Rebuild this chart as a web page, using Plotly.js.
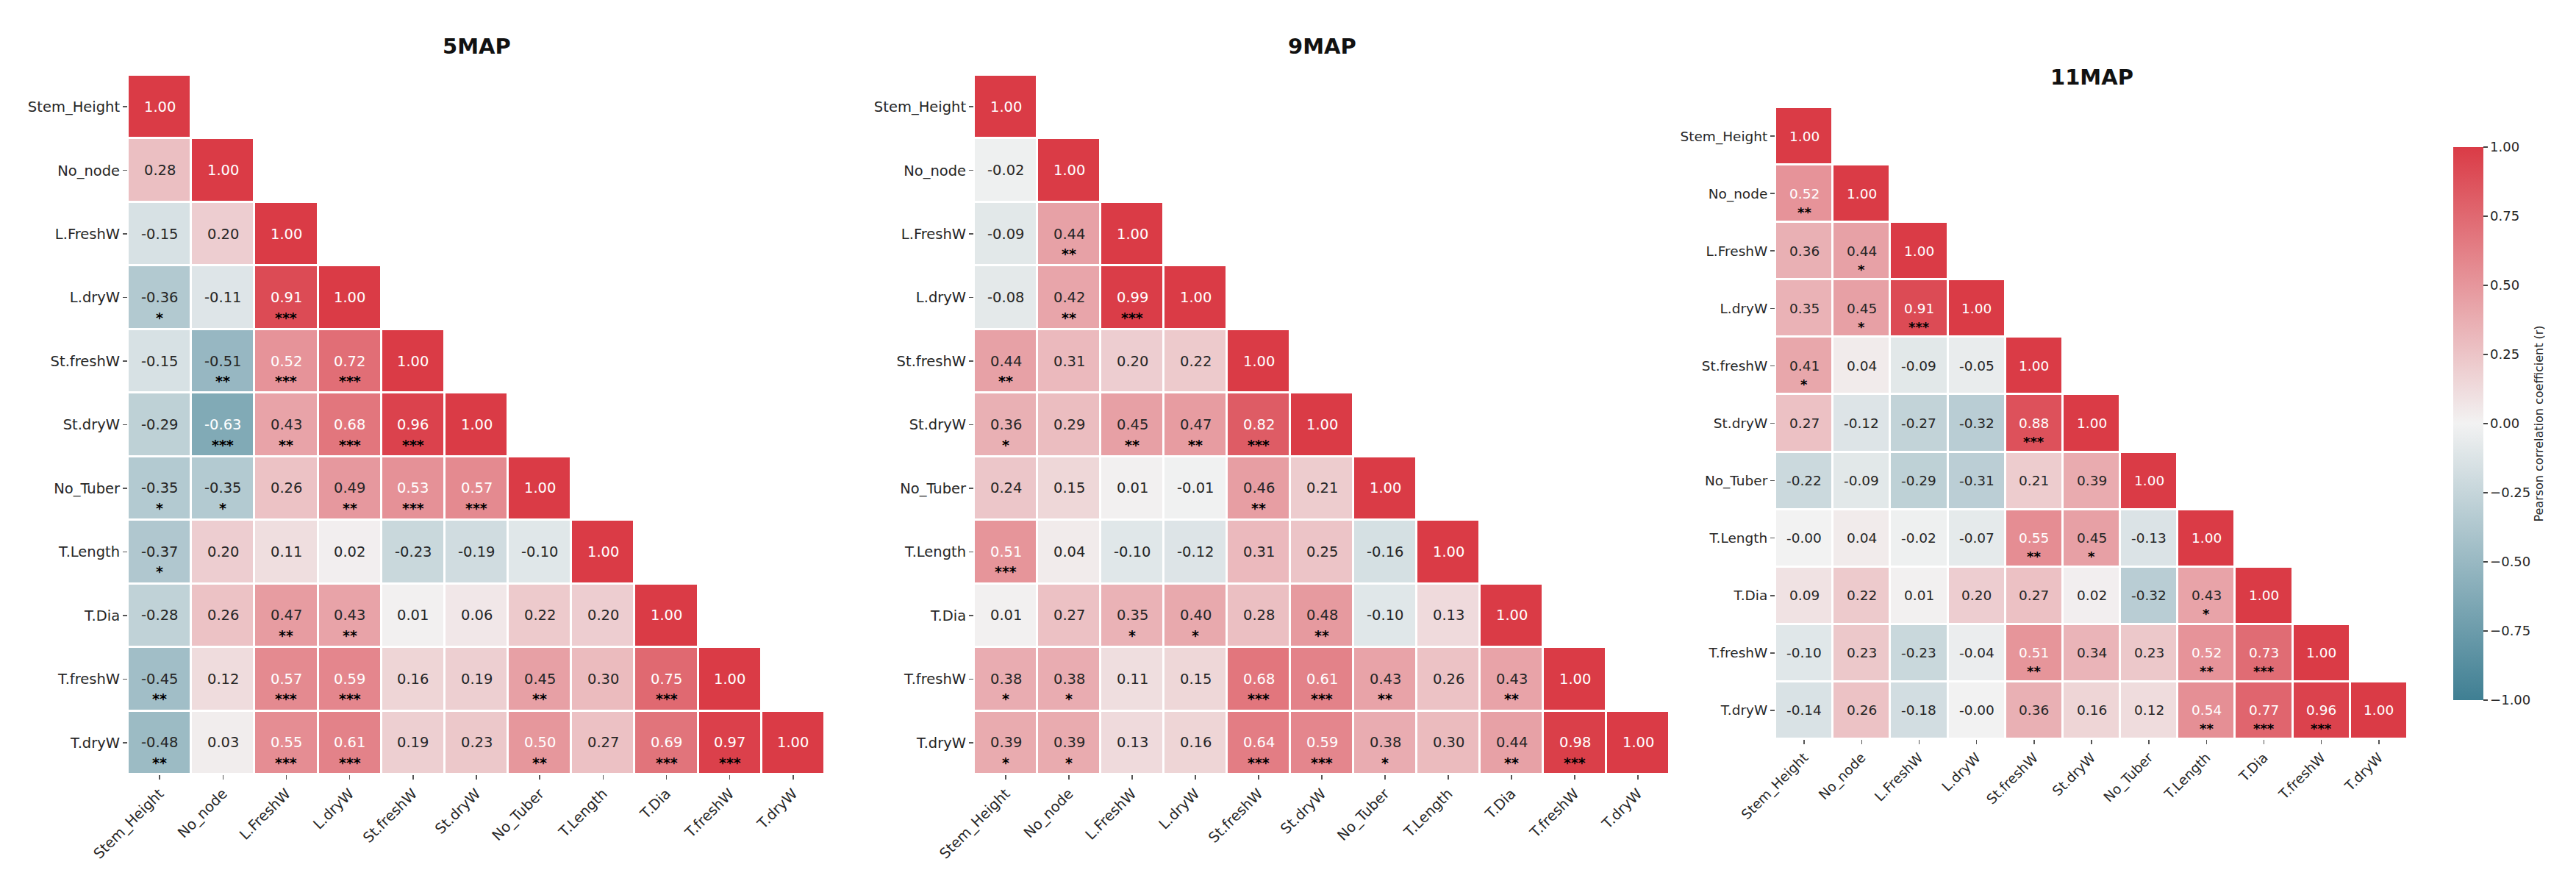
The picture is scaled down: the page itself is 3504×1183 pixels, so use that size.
<!DOCTYPE html>
<html>
<head>
<meta charset="utf-8">
<script src="https://cdn.plot.ly/plotly-3.0.1.min.js"></script>
<style>
  html, body { margin: 0; padding: 0; background: #ffffff; }
  #chart { width: 3504px; height: 1183px; }
</style>
</head>
<body>
<div id="chart"></div>
<script>
// Traits measured on the plants
const variables = ["Stem_Height", "No_node", "L.FreshW", "L.dryW", "St.freshW", "St.dryW",
                   "No_Tuber", "T.Length", "T.Dia", "T.freshW", "T.dryW"];

// Lower-triangle Pearson r, one row per trait (row i holds columns 0..i)
const r5MAP = [
  [1.00],
  [0.28, 1.00],
  [-0.15, 0.20, 1.00],
  [-0.36, -0.11, 0.91, 1.00],
  [-0.15, -0.51, 0.52, 0.72, 1.00],
  [-0.29, -0.63, 0.43, 0.68, 0.96, 1.00],
  [-0.35, -0.35, 0.26, 0.49, 0.53, 0.57, 1.00],
  [-0.37, 0.20, 0.11, 0.02, -0.23, -0.19, -0.10, 1.00],
  [-0.28, 0.26, 0.47, 0.43, 0.01, 0.06, 0.22, 0.20, 1.00],
  [-0.45, 0.12, 0.57, 0.59, 0.16, 0.19, 0.45, 0.30, 0.75, 1.00],
  [-0.48, 0.03, 0.55, 0.61, 0.19, 0.23, 0.50, 0.27, 0.69, 0.97, 1.00]
];
// Significance level per cell: 1 = *, 2 = **, 3 = ***
const sig5MAP = [
  [0],
  [0, 0],
  [0, 0, 0],
  [1, 0, 3, 0],
  [0, 2, 3, 3, 0],
  [0, 3, 2, 3, 3, 0],
  [1, 1, 0, 2, 3, 3, 0],
  [1, 0, 0, 0, 0, 0, 0, 0],
  [0, 0, 2, 2, 0, 0, 0, 0, 0],
  [2, 0, 3, 3, 0, 0, 2, 0, 3, 0],
  [2, 0, 3, 3, 0, 0, 2, 0, 3, 3, 0]
];

const r9MAP = [
  [1.00],
  [-0.02, 1.00],
  [-0.09, 0.44, 1.00],
  [-0.08, 0.42, 0.99, 1.00],
  [0.44, 0.31, 0.20, 0.22, 1.00],
  [0.36, 0.29, 0.45, 0.47, 0.82, 1.00],
  [0.24, 0.15, 0.01, -0.01, 0.46, 0.21, 1.00],
  [0.51, 0.04, -0.10, -0.12, 0.31, 0.25, -0.16, 1.00],
  [0.01, 0.27, 0.35, 0.40, 0.28, 0.48, -0.10, 0.13, 1.00],
  [0.38, 0.38, 0.11, 0.15, 0.68, 0.61, 0.43, 0.26, 0.43, 1.00],
  [0.39, 0.39, 0.13, 0.16, 0.64, 0.59, 0.38, 0.30, 0.44, 0.98, 1.00]
];
const sig9MAP = [
  [0],
  [0, 0],
  [0, 2, 0],
  [0, 2, 3, 0],
  [2, 0, 0, 0, 0],
  [1, 0, 2, 2, 3, 0],
  [0, 0, 0, 0, 2, 0, 0],
  [3, 0, 0, 0, 0, 0, 0, 0],
  [0, 0, 1, 1, 0, 2, 0, 0, 0],
  [1, 1, 0, 0, 3, 3, 2, 0, 2, 0],
  [1, 1, 0, 0, 3, 3, 1, 0, 2, 3, 0]
];

const r11MAP = [
  [1.00],
  [0.52, 1.00],
  [0.36, 0.44, 1.00],
  [0.35, 0.45, 0.91, 1.00],
  [0.41, 0.04, -0.09, -0.05, 1.00],
  [0.27, -0.12, -0.27, -0.32, 0.88, 1.00],
  [-0.22, -0.09, -0.29, -0.31, 0.21, 0.39, 1.00],
  [-0.00, 0.04, -0.02, -0.07, 0.55, 0.45, -0.13, 1.00],
  [0.09, 0.22, 0.01, 0.20, 0.27, 0.02, -0.32, 0.43, 1.00],
  [-0.10, 0.23, -0.23, -0.04, 0.51, 0.34, 0.23, 0.52, 0.73, 1.00],
  [-0.14, 0.26, -0.18, -0.00, 0.36, 0.16, 0.12, 0.54, 0.77, 0.96, 1.00]
];
const sig11MAP = [
  [0],
  [2, 0],
  [0, 1, 0],
  [0, 1, 3, 0],
  [1, 0, 0, 0, 0],
  [0, 0, 0, 0, 3, 0],
  [0, 0, 0, 0, 0, 0, 0],
  [0, 0, 0, 0, 2, 1, 0, 0],
  [0, 0, 0, 0, 0, 0, 0, 1, 0],
  [0, 0, 0, 0, 2, 0, 0, 2, 3, 0],
  [0, 0, 0, 0, 0, 0, 0, 2, 3, 3, 0]
];

const colorbarTicks = [-1.00, -0.75, -0.50, -0.25, 0.00, 0.25, 0.50, 0.75, 1.00];

// ---- styling ----
const W = 3504, H = 1183;
const FONT = "DejaVu Sans, Liberation Sans, sans-serif";
const LOW = [63, 127, 147], MID = [242, 242, 242], HIGH = [218, 59, 70];
const rgb = c => "rgb(" + c.map(Math.round).join(",") + ")";
const colorscale = [[0, rgb(LOW)], [0.5, rgb(MID)], [1, rgb(HIGH)]];

function cellColor(v) {
  const t = (v + 1) / 2;
  const [a, b, f] = t < 0.5 ? [LOW, MID, t / 0.5] : [MID, HIGH, (t - 0.5) / 0.5];
  return a.map((c, i) => c + (b[i] - c) * f);
}
function luminance(c) {
  const lin = c.map(x => { x /= 255; return x <= 0.03928 ? x / 12.92 : Math.pow((x + 0.055) / 1.055, 2.4); });
  return 0.2126 * lin[0] + 0.7152 * lin[1] + 0.0722 * lin[2];
}
function fmt(v) {
  const s = Math.abs(v).toFixed(2);
  return (v < 0 || Object.is(v, -0)) ? "-" + s : s;
}

// panel boxes in pixels: [left, right, top, bottom]
const panels = [
  { title: "5MAP",  r: r5MAP,  sig: sig5MAP,  box: [174, 1122, 102, 1053], titleY: 63,  fs: 19.5, starFs: 19, starShift: -27 },
  { title: "9MAP",  r: r9MAP,  sig: sig9MAP,  box: [1325, 2271, 102, 1053], titleY: 63, fs: 19.5, starFs: 19, starShift: -27 },
  { title: "11MAP", r: r11MAP, sig: sig11MAP, box: [2415, 3275, 146, 1005], titleY: 105, fs: 18.5, starFs: 18, starShift: -25 }
];

const data = [];
const annotations = [];
const layout = {
  width: W, height: H,
  margin: { l: 0, r: 0, t: 0, b: 0 },
  paper_bgcolor: "#ffffff",
  plot_bgcolor: "#ffffff",
  font: { family: FONT, color: "#262626", size: 18 },
  showlegend: false,
  annotations: annotations
};

panels.forEach((p, k) => {
  const sfx = k === 0 ? "" : String(k + 1);
  const xa = "x" + sfx, ya = "y" + sfx;
  const n = variables.length;
  const z = variables.map((_, i) => variables.map((_, j) => (j <= i ? p.r[i][j] : null)));

  data.push({
    type: "heatmap",
    x: variables, y: variables, z: z,
    xaxis: xa, yaxis: ya,
    zmin: -1, zmax: 1,
    colorscale: colorscale,
    xgap: 3, ygap: 3,
    hoverongaps: false,
    showscale: k === 2,
    colorbar: {
      x: 3327 / W, xanchor: "left", xref: "paper",
      y: 1 - 576 / H, yanchor: "middle", yref: "paper",
      len: 772, lenmode: "pixels",
      thickness: 41, thicknessmode: "pixels",
      outlinewidth: 0,
      tickmode: "array", tickvals: colorbarTicks,
      tickformat: ".2f",
      ticks: "outside", ticklen: 6, tickwidth: 1.5, tickcolor: "#444",
      tickfont: { family: FONT, size: 18, color: "#262626" },
      title: { text: "Pearson correlation coefficient (r)", side: "right",
               font: { family: FONT, size: 16, color: "#262626" } }
    }
  });

  const [L, R, T, B] = p.box;
  const axisCommon = {
    type: "category",
    showgrid: false, zeroline: false, showline: false,
    ticks: "outside", ticklen: 6, tickwidth: 1.5, tickcolor: "#555",
    tickmode: "array", tickvals: variables, ticktext: variables,
    tickfont: { family: FONT, size: p.fs, color: "#262626" },
    automargin: false, fixedrange: true
  };
  layout["xaxis" + sfx] = Object.assign({}, axisCommon, {
    domain: [L / W, R / W], anchor: ya, tickangle: -45
  });
  layout["yaxis" + sfx] = Object.assign({}, axisCommon, {
    domain: [1 - B / H, 1 - T / H], anchor: xa, autorange: "reversed"
  });

  // panel title
  annotations.push({
    xref: "paper", yref: "paper",
    x: ((L + R) / 2) / W, y: 1 - p.titleY / H,
    xanchor: "center", yanchor: "middle",
    text: "<b>" + p.title + "</b>", showarrow: false,
    font: { family: FONT, size: 29, color: "#111111" }
  });

  // cell values and significance stars
  for (let i = 0; i < n; i++) {
    for (let j = 0; j <= i; j++) {
      const v = p.r[i][j];
      const txtColor = luminance(cellColor(v)) < 0.415 ? "#ffffff" : "#262626";
      annotations.push({
        xref: xa, yref: ya, x: variables[j], y: variables[i],
        text: fmt(v), showarrow: false,
        font: { family: FONT, size: p.fs, color: txtColor }
      });
      const s = p.sig[i][j];
      if (s > 0) {
        annotations.push({
          xref: xa, yref: ya, x: variables[j], y: variables[i],
          text: "<b>" + "*".repeat(s) + "</b>", showarrow: false,
          yshift: p.starShift,
          font: { family: FONT, size: p.starFs, color: "#000000" }
        });
      }
    }
  }
});

Plotly.newPlot("chart", data, layout, { displayModeBar: false, staticPlot: true });
</script>
</body>
</html>
